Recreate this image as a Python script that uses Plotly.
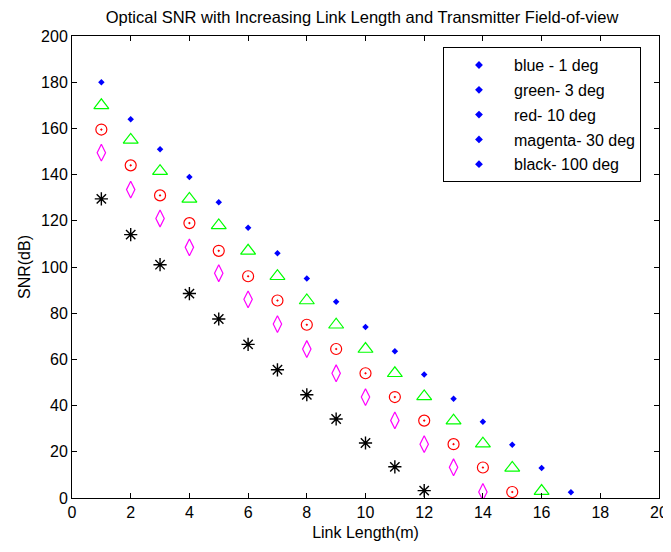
import plotly.graph_objects as go

# Link length (m)
x_blue = list(range(1, 18))
x_green = list(range(1, 17))
x_red = list(range(1, 16))
x_magenta = list(range(1, 15))
x_black = list(range(1, 13))

# SNR (dB)
snr_blue = [180, 164, 151, 139, 128, 117, 106, 95, 85, 74, 63.5, 53.5, 43, 33, 23, 13, 2.5]
snr_green = [170, 155, 141.5, 129.5, 118, 107, 96, 85.5, 75, 64.5, 54, 44, 33.5, 23.5, 13, 3]
snr_red = [159.5, 144, 131, 119, 107, 96, 85.5, 75, 64.5, 54, 43.7, 33.5, 23.3, 13.2, 2.6]
snr_magenta = [149.5, 133.5, 121, 108.5, 97.3, 86, 75.3, 64.5, 54, 43.7, 33.6, 23.3, 13.3, 2.6]
snr_black = [129.5, 114, 101, 88.5, 77.5, 66.5, 55.5, 44.7, 34.2, 23.8, 13.5, 3.2]

legend_names = ['blue - 1 deg', 'green- 3 deg', 'red- 10 deg', 'magenta- 30 deg', 'black- 100 deg']

FONT = 'Liberation Sans, Arial'

fig = go.Figure()

fig.add_trace(go.Scatter(x=x_blue, y=snr_blue, mode='markers', showlegend=False,
                         marker=dict(symbol='diamond', size=5, color='#0000ff')))
fig.add_trace(go.Scatter(x=x_green, y=snr_green, mode='markers', showlegend=False,
                         marker=dict(symbol='triangle-up-open', size=13, color='#00ff00',
                                     line=dict(width=1.2))))
fig.add_trace(go.Scatter(x=x_red, y=snr_red, mode='markers', showlegend=False,
                         marker=dict(symbol='circle-open-dot', size=11, color='#ff0000',
                                     line=dict(width=1.2))))
fig.add_trace(go.Scatter(x=x_magenta, y=snr_magenta, mode='markers', showlegend=False,
                         marker=dict(symbol='diamond-tall-open', size=12, color='#ff00ff',
                                     line=dict(width=1.2))))
fig.add_trace(go.Scatter(x=x_black, y=snr_black, mode='markers', showlegend=False,
                         marker=dict(symbol='asterisk-open', size=11, color='#000000',
                                     line=dict(width=1.4))))

# MATLAB drew every legend entry as a blue dot
for i, name in enumerate(legend_names):
    fig.add_trace(go.Scatter(x=[None], y=[None], mode='markers', name=name,
                             legendgroup='g%d' % i,
                             marker=dict(symbol='diamond', size=6, color='#0000ff')))

axis_style = dict(
    showgrid=False, zeroline=False, showline=True, linecolor='black', linewidth=1,
    mirror='ticks', ticks='inside', ticklen=5, tickcolor='black',
    tickfont=dict(family=FONT, size=16, color='black'),
)

# the page body adds an 8px margin on every side, so the figure is made
# 8px smaller across and 16px smaller down to keep it inside the window
fig.update_layout(
    width=663, height=536,
    margin=dict(l=64, r=12, t=28, b=46, autoexpand=False),
    paper_bgcolor='white', plot_bgcolor='white',
    title=dict(text='Optical SNR with Increasing Link Length and Transmitter Field-of-view',
               x=0.534, xanchor='center', y=0.982, yanchor='middle',
               font=dict(family=FONT, size=16.5, color='black')),
    xaxis=dict(range=[0, 20], dtick=2,
               title=dict(text='Link Length(m)', standoff=6,
                          font=dict(family=FONT, size=16, color='black')),
               **axis_style),
    yaxis=dict(range=[0, 200], dtick=20,
               title=dict(text='SNR(dB)', standoff=6,
                          font=dict(family=FONT, size=16, color='black')),
               **axis_style),
    legend=dict(x=0.632, y=0.976, xanchor='left', yanchor='top',
                bgcolor='white', bordercolor='black', borderwidth=1,
                traceorder='grouped', tracegroupgap=1, itemwidth=60,
                font=dict(family=FONT, size=16, color='black')),
)

fig.write_html("out.html")
